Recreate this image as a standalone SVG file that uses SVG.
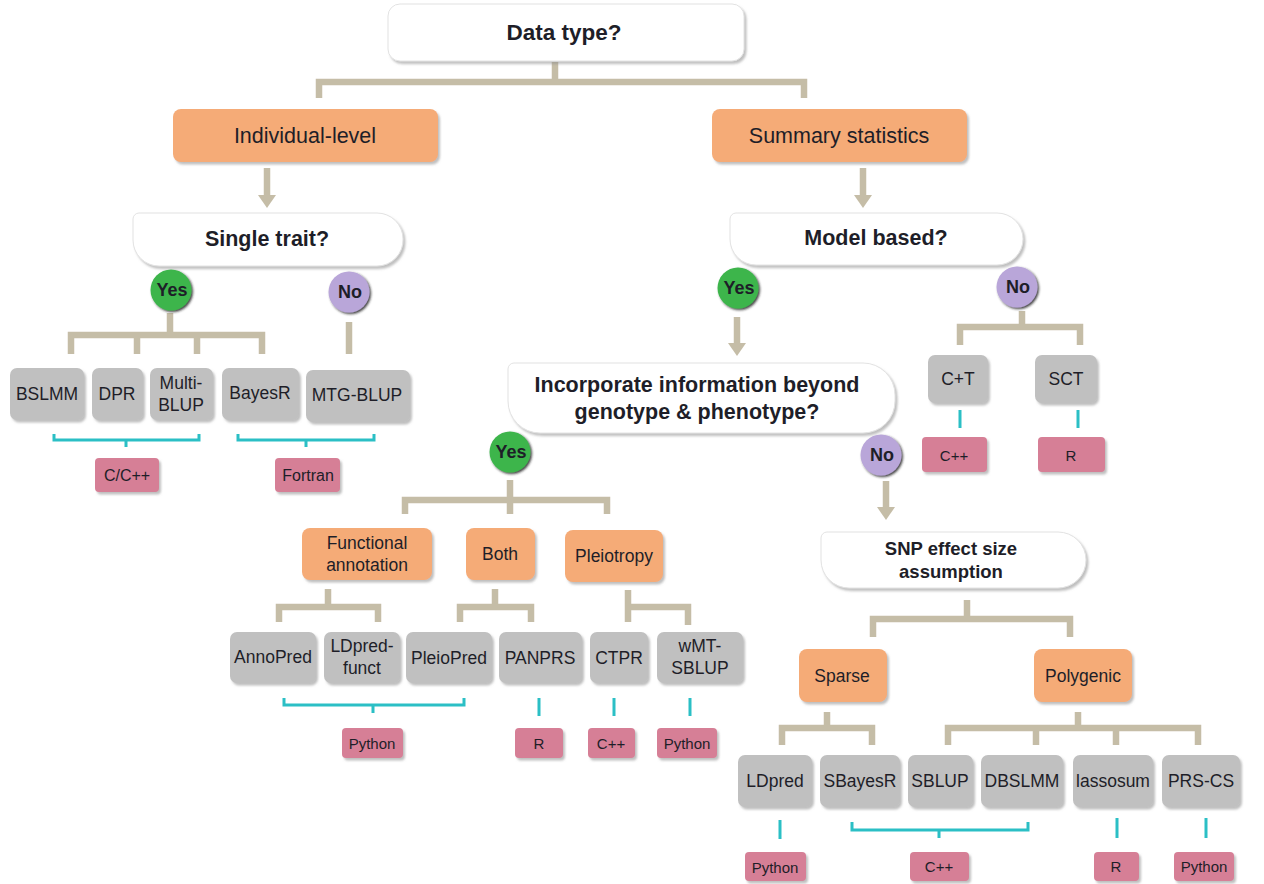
<svg xmlns="http://www.w3.org/2000/svg" width="1264" height="884" viewBox="0 0 1264 884">
<defs>
<filter id="sh" x="-10%" y="-10%" width="125%" height="130%">
<feDropShadow dx="2" dy="2.5" stdDeviation="1.2" flood-color="#8a8a8a" flood-opacity="0.55"/>
</filter>
<filter id="shc" x="-30%" y="-30%" width="160%" height="160%">
<feDropShadow dx="1.5" dy="1.5" stdDeviation="0.8" flood-color="#222" flood-opacity="0.85"/>
</filter>
</defs>
<style>
text{font-family:"Liberation Sans",Arial,sans-serif;fill:#1e1e28;text-anchor:middle;dominant-baseline:central}
.q{font-weight:bold;font-size:21.5px}
.qs{font-weight:bold;font-size:18.5px}
.o{fill:#F5AB77;filter:url(#sh)}
.g{fill:#C0C0C0;filter:url(#sh)}
.p{fill:#D67F96;filter:url(#sh)}
.w{fill:#fff;stroke:#e2e2e2;stroke-width:1;filter:url(#sh)}
.yes{fill:#3DB54C;filter:url(#shc)}
.no{fill:#B9A6D9;filter:url(#shc)}
.c{fill:none;stroke:#C5BDA7;stroke-width:6.5;stroke-linejoin:miter}
.ah{fill:#C5BDA7}
.t{fill:none;stroke:#2BBFC5;stroke-width:3}
.ot{font-size:21.5px}
.gt{font-size:17.5px}
.pt{font-size:15px}
.pt2{font-size:16px}
.ct{font-weight:bold;font-size:18px}
</style>

<g id="connectors">
<path class="c" d="M555,62 V82 M319,98 V82 H804 V98"/>
<path class="c" d="M267,168 V197"/><polygon class="ah" points="258,195 276,195 267,208"/>
<path class="c" d="M863,168 V197"/><polygon class="ah" points="854,195 872,195 863,208"/>
<path class="c" d="M170,313 V335 M71,354 V335 H262 V354 M137,335 V354 M197,335 V354"/>
<path class="c" d="M349,322 V354"/>
<path class="c" d="M737,317 V345"/><polygon class="ah" points="728,343 746,343 737,356"/>
<path class="c" d="M1022,311 V327 M960,345 V327 H1080 V345"/>
<path class="c" d="M510,480 V514 M405,514 V500 H607 V514"/>
<path class="c" d="M886,481 V509"/><polygon class="ah" points="877,507 895,507 886,520"/>
<path class="c" d="M328,589 V607 M279,622 V607 H378 V622"/>
<path class="c" d="M495,589 V607 M460,622 V607 H531 V622"/>
<path class="c" d="M628,590 V622 M628,607 H688 V625"/>
<path class="c" d="M967,600 V619 M873,637 V619 H1070 V637"/>
<path class="c" d="M827,712 V728 M782,745 V728 H872 V745"/>
<path class="c" d="M1078,712 V728 M948,745 V728 H1198 V745 M1036,728 V745 M1116,728 V745"/>
<path class="t" d="M54,434 V440 H199 V434 M126,440 V447"/>
<path class="t" d="M238,434 V440 H374 V434 M306,440 V447"/>
<path class="t" d="M960,410 V428 M1078,410 V428"/>
<path class="t" d="M284,698 V705 H464 V698 M373,705 V713"/>
<path class="t" d="M539,698 V716 M614,698 V716 M690,698 V716"/>
<path class="t" d="M780,820 V839 M1117,818 V838 M1206,818 V838"/>
<path class="t" d="M852,822 V830 H1028 V822 M939,830 V838"/>
</g>

<g id="n-datatype"><rect class="w" x="388" y="4" width="356" height="57" rx="12"/><text class="q" x="564" y="32" style="font-size:22.5px">Data type?</text></g>
<g id="n-individual"><rect class="o" x="173" y="109" width="265" height="53" rx="8"/><text class="ot" x="305" y="136">Individual-level</text></g>
<g id="n-summary"><rect class="o" x="712" y="109" width="255" height="53" rx="8"/><text class="ot" x="839" y="136">Summary statistics</text></g>

<g id="n-single"><path class="w" d="M139,213 H377 A26,26 0 0 1 403,239 A26,26 0 0 1 377,266 H159 A26,26 0 0 1 133,240 V219 A6,6 0 0 1 139,213 Z"/><text class="q" x="267" y="239">Single trait?</text></g>
<g id="n-yes1"><circle class="yes" cx="171" cy="290" r="20.5"/><text class="ct" x="172" y="290">Yes</text></g>
<g id="n-no1"><circle class="no" cx="349" cy="292" r="20.5"/><text class="ct" x="350" y="292">No</text></g>

<g id="n-bslmm"><rect class="g" x="10" y="368" width="74" height="52" rx="7"/><text class="gt" x="47" y="394">BSLMM</text></g>
<g id="n-dpr"><rect class="g" x="92" y="368" width="51" height="52" rx="7"/><text class="gt" x="117" y="394">DPR</text></g>
<g id="n-multiblup"><rect class="g" x="150" y="368" width="63" height="52" rx="7"/><text class="gt" x="181" y="383">Multi-</text><text class="gt" x="181" y="405">BLUP</text></g>
<g id="n-bayesr"><rect class="g" x="222" y="368" width="77" height="52" rx="7"/><text class="gt" x="260" y="393">BayesR</text></g>
<g id="n-mtgblup"><rect class="g" x="306" y="370" width="104" height="52" rx="7"/><text class="gt" x="357" y="395">MTG-BLUP</text></g>
<g id="n-ccpp"><rect class="p" x="95" y="458" width="64" height="34" rx="4"/><text class="pt2" x="127" y="475">C/C++</text></g>
<g id="n-fortran"><rect class="p" x="275" y="458" width="65" height="34" rx="4"/><text class="pt2" x="308" y="475">Fortran</text></g>

<g id="n-model"><path class="w" d="M736,213 H997 A26,26 0 0 1 1023,239 A26,26 0 0 1 997,265 H756 A26,26 0 0 1 730,239 V219 A6,6 0 0 1 736,213 Z"/><text class="q" x="876" y="238">Model based?</text></g>
<g id="n-yes2"><circle class="yes" cx="738" cy="288" r="20.5"/><text class="ct" x="739" y="288">Yes</text></g>
<g id="n-no2"><circle class="no" cx="1017" cy="287" r="20.5"/><text class="ct" x="1018" y="287">No</text></g>
<g id="n-ct"><rect class="g" x="928" y="355" width="60" height="48" rx="7"/><text class="gt" x="958" y="379">C+T</text></g>
<g id="n-sct"><rect class="g" x="1035" y="355" width="62" height="48" rx="7"/><text class="gt" x="1066" y="379">SCT</text></g>
<g id="n-cpp1"><rect class="p" x="922" y="437" width="65" height="35" rx="4"/><text class="pt" x="954" y="455">C++</text></g>
<g id="n-r1"><rect class="p" x="1038" y="437" width="67" height="35" rx="4"/><text class="pt" x="1071" y="455">R</text></g>

<g id="n-incorporate"><path class="w" d="M514,363 H863 A32,32 0 0 1 895,395 V401 A32,32 0 0 1 863,433 H540 A32,32 0 0 1 508,401 V369 A6,6 0 0 1 514,363 Z"/><text class="q" x="697" y="385">Incorporate information beyond</text><text class="q" x="697" y="412">genotype &amp; phenotype?</text></g>
<g id="n-yes3"><circle class="yes" cx="510" cy="452" r="20.5"/><text class="ct" x="511" y="452">Yes</text></g>
<g id="n-no3"><circle class="no" cx="881" cy="455" r="20.5"/><text class="ct" x="882" y="455">No</text></g>

<g id="n-functional"><rect class="o" x="302" y="528" width="130" height="52" rx="8"/><text class="gt" x="367" y="543">Functional</text><text class="gt" x="367" y="565">annotation</text></g>
<g id="n-both"><rect class="o" x="466" y="528" width="69" height="52" rx="8"/><text class="gt" x="500" y="554">Both</text></g>
<g id="n-pleiotropy"><rect class="o" x="565" y="530" width="98" height="52" rx="8"/><text class="gt" x="614" y="556">Pleiotropy</text></g>

<g id="n-annopred"><rect class="g" x="230" y="632" width="86" height="51" rx="7"/><text class="gt" x="273" y="657">AnnoPred</text></g>
<g id="n-ldpredfunct"><rect class="g" x="324" y="632" width="76" height="51" rx="7"/><text class="gt" x="362" y="646">LDpred-</text><text class="gt" x="362" y="668">funct</text></g>
<g id="n-pleiopred"><rect class="g" x="406" y="632" width="86" height="51" rx="7"/><text class="gt" x="449" y="658">PleioPred</text></g>
<g id="n-panprs"><rect class="g" x="499" y="632" width="83" height="51" rx="7"/><text class="gt" x="540" y="658">PANPRS</text></g>
<g id="n-ctpr"><rect class="g" x="590" y="632" width="58" height="51" rx="7"/><text class="gt" x="619" y="658">CTPR</text></g>
<g id="n-wmtsblup"><rect class="g" x="657" y="632" width="86" height="51" rx="7"/><text class="gt" x="700" y="646">wMT-</text><text class="gt" x="700" y="668">SBLUP</text></g>
<g id="n-python1"><rect class="p" x="342" y="728" width="61" height="30" rx="4"/><text class="pt" x="372" y="743">Python</text></g>
<g id="n-r2"><rect class="p" x="515" y="728" width="48" height="30" rx="4"/><text class="pt" x="539" y="743">R</text></g>
<g id="n-cpp2"><rect class="p" x="588" y="728" width="47" height="30" rx="4"/><text class="pt" x="611" y="743">C++</text></g>
<g id="n-python2"><rect class="p" x="657" y="728" width="60" height="30" rx="4"/><text class="pt" x="687" y="743">Python</text></g>

<g id="n-snp"><path class="w" d="M827,532 H1058 A28,28 0 0 1 1086,560 A28,28 0 0 1 1058,588 H849 A28,28 0 0 1 821,560 V538 A6,6 0 0 1 827,532 Z"/><text class="qs" x="951" y="548">SNP effect size</text><text class="qs" x="951" y="571">assumption</text></g>
<g id="n-sparse"><rect class="o" x="799" y="649" width="88" height="53" rx="8"/><text class="gt" x="842" y="676">Sparse</text></g>
<g id="n-polygenic"><rect class="o" x="1034" y="649" width="98" height="53" rx="8"/><text class="gt" x="1083" y="676">Polygenic</text></g>

<g id="n-ldpred"><rect class="g" x="738" y="755" width="74" height="52" rx="7"/><text class="gt" x="775" y="781">LDpred</text></g>
<g id="n-sbayesr"><rect class="g" x="820" y="755" width="80" height="52" rx="7"/><text class="gt" x="860" y="781">SBayesR</text></g>
<g id="n-sblup"><rect class="g" x="908" y="755" width="65" height="52" rx="7"/><text class="gt" x="940" y="781">SBLUP</text></g>
<g id="n-dbslmm"><rect class="g" x="981" y="755" width="82" height="52" rx="7"/><text class="gt" x="1022" y="781">DBSLMM</text></g>
<g id="n-lassosum"><rect class="g" x="1073" y="755" width="80" height="52" rx="7"/><text class="gt" x="1113" y="781">lassosum</text></g>
<g id="n-prscs"><rect class="g" x="1162" y="755" width="78" height="52" rx="7"/><text class="gt" x="1201" y="781">PRS-CS</text></g>
<g id="n-python3"><rect class="p" x="745" y="852" width="61" height="29" rx="4"/><text class="pt" x="775" y="867">Python</text></g>
<g id="n-cpp3"><rect class="p" x="910" y="852" width="59" height="29" rx="4"/><text class="pt" x="939" y="866">C++</text></g>
<g id="n-r3"><rect class="p" x="1094" y="852" width="45" height="29" rx="4"/><text class="pt" x="1116" y="866">R</text></g>
<g id="n-python4"><rect class="p" x="1174" y="852" width="60" height="29" rx="4"/><text class="pt" x="1204" y="866">Python</text></g>
</svg>
